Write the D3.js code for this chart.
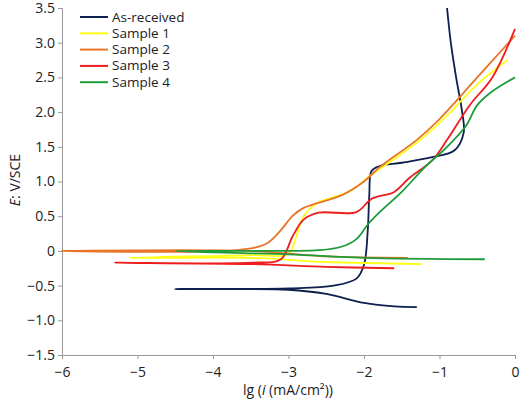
<!DOCTYPE html><html><head><meta charset="utf-8"><script src="https://cdn.jsdelivr.net/npm/d3@7"></script>
<style>body{margin:0;background:#fff}text{font-family:"Open Sans",sans-serif}</style></head><body><svg id="c" width="520" height="403"></svg><script>
const names=["As-received","Sample 1","Sample 2","Sample 3","Sample 4"];
const colors=["#0d1f4f","#ffff1a","#e8742a","#ee1c1c","#1f9c3a"];
const asReceived=[[-1.3,-0.81],[-1.6,-0.8],[-2.0,-0.75],[-2.5,-0.62],[-3.0,-0.56],[-4.5,-0.55],[-3.0,-0.54],[-2.4,-0.5],[-2.1,-0.4],[-2.0,-0.2],[-1.95,0.3],[-1.93,0.8],[-1.9,1.15],[-1.8,1.22],[-1.5,1.27],[-1.1,1.35],[-0.8,1.45],[-0.68,1.7],[-0.7,2.0],[-0.78,2.5],[-0.85,3.0],[-0.9,3.5]];
const sample1=[[-1.23,-0.19],[-2.5,-0.16],[-3.5,-0.1],[-5.1,-0.1],[-3.5,-0.06],[-3.0,-0.04],[-2.9,0.2],[-2.8,0.5],[-2.6,0.7],[-2.2,0.85],[-1.9,1.1],[-1.5,1.4],[-1.2,1.65],[-0.9,1.95],[-0.5,2.4],[-0.1,2.75]];
const sample2=[[-1.42,-0.1],[-2.5,-0.08],[-3.5,0],[-6,0],[-3.7,0.01],[-3.3,0.1],[-3.1,0.3],[-2.95,0.5],[-2.8,0.62],[-2.3,0.8],[-2.0,1.0],[-1.8,1.2],[-1.3,1.6],[-1.0,1.9],[-0.5,2.5],[0,3.1]];
const sample3=[[-1.6,-0.25],[-2.5,-0.23],[-3.5,-0.19],[-5.3,-0.17],[-3.5,-0.17],[-3.1,-0.12],[-2.95,0.2],[-2.8,0.45],[-2.6,0.55],[-2.1,0.56],[-1.9,0.75],[-1.6,0.85],[-1.4,1.05],[-1.1,1.3],[-0.9,1.6],[-0.6,2.1],[-0.3,2.5],[0,3.2]];
const sample4=[[-0.4,-0.12],[-2.0,-0.1],[-3.0,-0.05],[-4.5,0],[-3.0,0.0],[-2.6,0.01],[-2.3,0.06],[-2.1,0.17],[-1.95,0.38],[-1.8,0.55],[-1.5,0.85],[-1.2,1.2],[-0.9,1.5],[-0.65,1.8],[-0.5,2.1],[-0.3,2.3],[0,2.5]];
const series=[asReceived,sample1,sample2,sample3,sample4];
const xTicks=[-6,-5,-4,-3,-2,-1,0];
const yTicks=[-1.5,-1,-0.5,0,0.5,1,1.5,2,2.5,3,3.5];
const svg=d3.select("#c");
const x=d3.scaleLinear().domain([-6,0]).range([62,515]);
const y=d3.scaleLinear().domain([-1.5,3.5]).range([355,8]);
const fmt=v=>v===0?"0":(v<0?"\u2212":"")+Math.abs(v).toFixed(1);
const gx=svg.append("g").attr("transform","translate(0,355)").call(d3.axisBottom(x).tickValues(xTicks).tickSize(4).tickFormat(v=>v===0?"0":(v<0?"\u2212":"")+Math.abs(v)));
const gy=svg.append("g").attr("transform","translate(62,0)").call(d3.axisLeft(y).tickValues(yTicks).tickSize(4).tickFormat(fmt));
[gx,gy].forEach(g=>{g.selectAll("path,line").attr("stroke","#999");g.selectAll("text").attr("font-size",14).attr("fill","#222");});
gx.selectAll("text").attr("dy","1.1em");
const line=d3.line().x(d=>x(d[0])).y(d=>y(d[1])).curve(d3.curveCatmullRom.alpha(0.5));
series.forEach((s,i)=>svg.append("path").attr("d",line(s)).attr("fill","none").attr("stroke",colors[i]).attr("stroke-width",1.8));
const lg=svg.append("g");
names.forEach((n,i)=>{const yy=17+i*16.3;lg.append("line").attr("x1",80).attr("x2",108).attr("y1",yy).attr("y2",yy).attr("stroke",colors[i]).attr("stroke-width",2);
lg.append("text").attr("x",112).attr("y",yy+4.5).attr("font-size",13.5).attr("fill","#222").text(n);});
svg.append("text").attr("x",288).attr("y",395).attr("text-anchor","middle").attr("font-size",14).attr("fill","#222").html('lg (<tspan font-style="italic">i</tspan> (mA/cm²))');
svg.append("text").attr("transform","translate(20,180) rotate(-90)").attr("text-anchor","middle").attr("font-size",14).attr("fill","#222").html('<tspan font-style="italic">E</tspan>: V/SCE');
</script></body></html>
